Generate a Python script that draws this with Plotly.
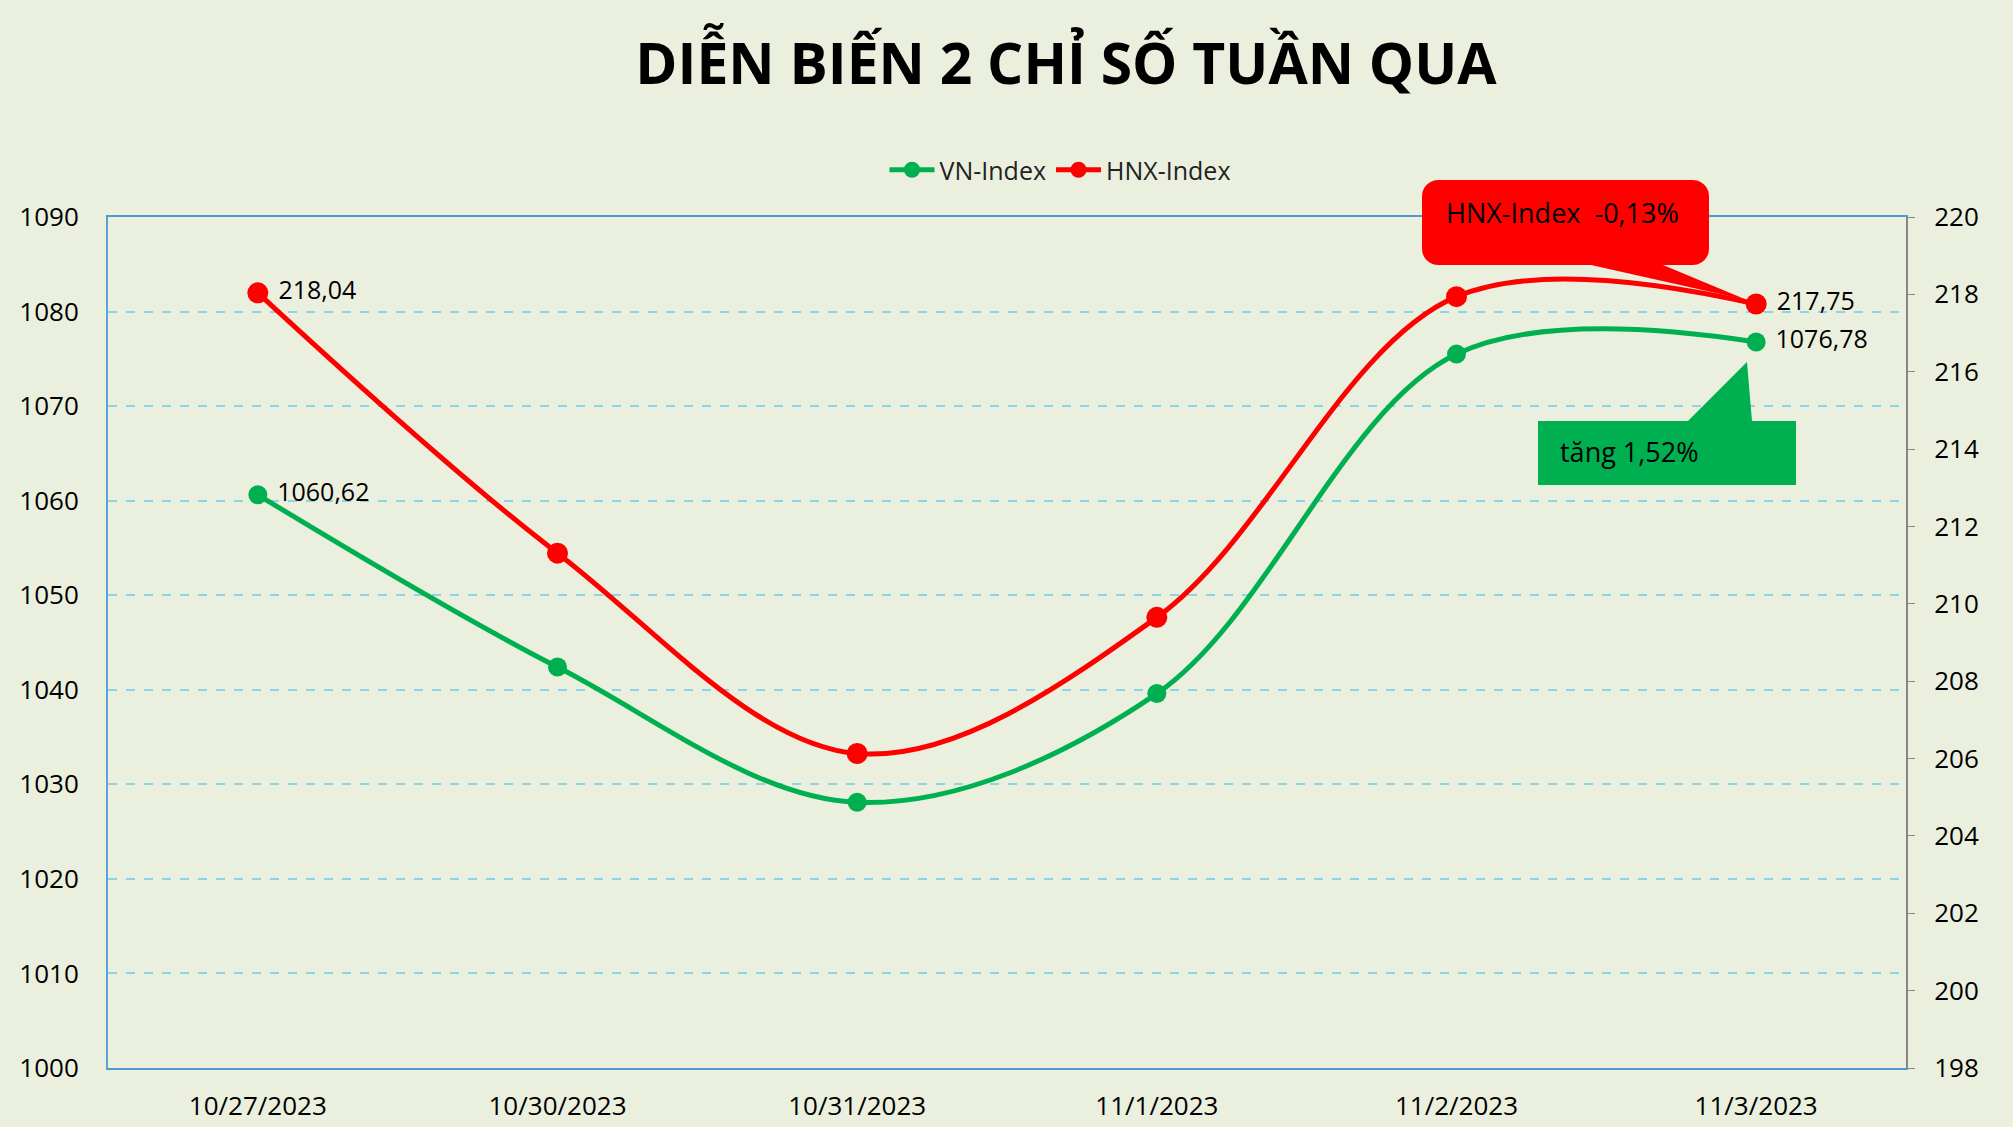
import math
import plotly.graph_objects as go

# du lieu doc tu hinh
dates = ["10/27/2023", "10/30/2023", "10/31/2023", "11/1/2023", "11/2/2023", "11/3/2023"]
vn_index = [1060.62, 1042.4, 1028.1, 1039.6, 1075.5, 1076.78]
hnx_index = [218.04, 211.31, 206.13, 209.65, 217.94, 217.75]

vn_label = "tăng 1,52%"
hnx_label = "HNX-Index  -0,13%"

W, H = 2013, 1127
L, R, T, B = 108, 1906, 217, 1068
BG = "#EBF0DE"
GREEN = "#00B050"
RED = "#FF0000"
FONT = "Open Sans"


def px(x, y):
    # pixel -> paper
    return (x - L) / (R - L), (B - y) / (B - T)


def path(points):
    s = ""
    for i, (x, y) in enumerate(points):
        a, b = px(x, y)
        s += ("M" if i == 0 else "L") + f"{a:.5f},{b:.5f} "
    return s + "Z"


def end_labels(vals):
    out = []
    for i, v in enumerate(vals):
        if i == 0 or i == len(vals) - 1:
            out.append(" " + f"{v:.2f}".replace(".", ","))
        else:
            out.append("")
    return out


fig = go.Figure()
fig.add_trace(go.Scatter(
    x=dates, y=vn_index, name="VN-Index", mode="lines+markers+text",
    line=dict(color=GREEN, width=5, shape="spline"),
    marker=dict(color=GREEN, size=19),
    text=end_labels(vn_index), textposition="middle right",
    textfont=dict(family=FONT, size=25, color="black"),
    cliponaxis=False, yaxis="y"))
fig.add_trace(go.Scatter(
    x=dates, y=hnx_index, name="HNX-Index", mode="lines+markers+text",
    line=dict(color=RED, width=5, shape="spline"),
    marker=dict(color=RED, size=21),
    text=end_labels(hnx_index), textposition="middle right",
    textfont=dict(family=FONT, size=25, color="black"),
    cliponaxis=False, yaxis="y2"))

# callout do (hop bo tron + mui nhon)
r = 16
x0, x1, y0, y1 = 1422, 1709, 180, 265
corner = []
for cx, cy, a0 in [(x1 - r, y0 + r, -90), (x1 - r, y1 - r, 0), (x0 + r, y1 - r, 90), (x0 + r, y0 + r, 180)]:
    for k in range(7):
        ang = math.radians(a0 + k * 15)
        corner.append((cx + r * math.cos(ang), cy + r * math.sin(ang)))
red_pts = corner[:14] + [(1663, y1), (1747, 300), (1591, y1)] + corner[14:]
fig.add_shape(type="path", xref="paper", yref="paper", path=path(red_pts),
              fillcolor=RED, line=dict(width=0), layer="above")

# callout xanh
g0, g1, h0, h1 = 1538, 1796, 421, 485
green_pts = [(g0, h0), (1688, h0), (1747, 362), (1752, h0), (g1, h0), (g1, h1), (g0, h1)]
fig.add_shape(type="path", xref="paper", yref="paper", path=path(green_pts),
              fillcolor=GREEN, line=dict(width=0), layer="above")

ax, ay = px(1562, 213)
fig.add_annotation(x=ax, y=ay, xref="paper", yref="paper", text=hnx_label, showarrow=False,
                   xanchor="center", yanchor="middle",
                   font=dict(family=FONT, size=27, color="black"))
ax, ay = px(1629, 451)
fig.add_annotation(x=ax, y=ay, xref="paper", yref="paper", text=vn_label, showarrow=False,
                   xanchor="center", yanchor="middle",
                   font=dict(family=FONT, size=27, color="black"))

fig.update_layout(
    width=W, height=H,
    margin=dict(l=L, r=W - R, t=T, b=H - B, autoexpand=False),
    paper_bgcolor=BG, plot_bgcolor=BG,
    font=dict(family=FONT, size=25, color="black"),
    title=dict(text="<b>DIỄN BIẾN 2 CHỈ SỐ TUẦN QUA</b>", x=1066 / W, y=1 - 64 / H,
               xanchor="center", yanchor="middle", xref="container", yref="container",
               font=dict(family=FONT, size=57, color="black")),
    showlegend=True,
    legend=dict(orientation="h", x=(1060 - L) / (R - L), y=(B - 170) / (B - T),
                xanchor="center", yanchor="middle", bgcolor="rgba(0,0,0,0)",
                itemwidth=45, font=dict(family=FONT, size=25, color="#222222")),
    xaxis=dict(type="category", range=[-0.5, 5.5], showgrid=False, showline=True,
               linecolor="#4F9BD0", linewidth=2, mirror=True, ticks="", automargin=False,
               ticklabelstandoff=14, tickfont=dict(family=FONT, size=26)),
    yaxis=dict(range=[1000, 1090], dtick=10, showgrid=True, gridcolor="#8ED3E6",
               griddash="dash", gridwidth=1.5, showline=True, linecolor="#5BA3D6",
               linewidth=2, ticks="", ticklabelstandoff=22, zeroline=False, automargin=False,
               tickfont=dict(family=FONT, size=26)),
    yaxis2=dict(range=[198, 220], dtick=2, overlaying="y", side="right", showgrid=False,
                showline=True, linecolor="#868686", linewidth=2, ticks="outside",
                ticklen=7, tickcolor="#868686", ticklabelstandoff=14, zeroline=False,
                automargin=False, tickfont=dict(family=FONT, size=26)),
)

fig.write_html(
    "out.html",
    config={"displayModeBar": False},
    post_script="document.body.style.margin='0';"
                "document.documentElement.style.overflow='hidden';"
                "document.body.style.overflow='hidden';",
)
